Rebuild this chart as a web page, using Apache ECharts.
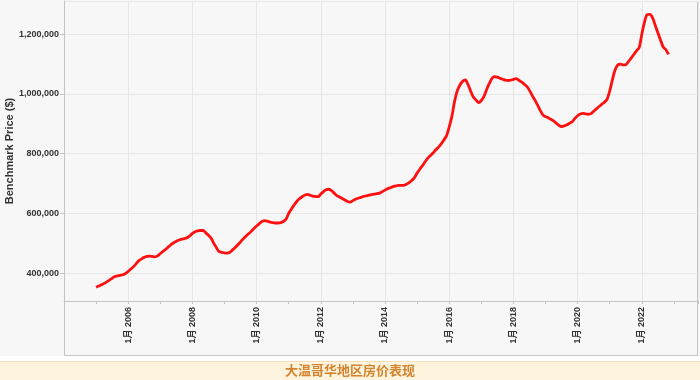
<!DOCTYPE html>
<html>
<head>
<meta charset="utf-8">
<script src="https://cdn.jsdelivr.net/npm/echarts@6/dist/echarts.min.js"></script>
<style>html,body{margin:0;padding:0;background:#fff}#c{width:700px;height:380px}</style>
</head>
<body>
<div id="c"></div>
<script>
// Monthly benchmark price, starting January 2005
const firstYear = 2005;
const benchmarkPrice = [
  // 2005
  353000,357000,361000,366000,371000,377000,383000,389000,391000,393000,395000,399000,
  // 2006
  406000,414000,422000,432000,442000,448000,453000,456000,457000,456000,455000,458000,
  // 2007
  466000,473000,480000,488000,496000,502000,507000,511000,514000,516000,519000,525000,
  // 2008
  533000,539000,542000,543000,543000,535000,527000,517000,500000,485000,472000,470000,
  // 2009
  468000,467000,470000,478000,486000,495000,505000,515000,524000,532000,540000,550000,
  // 2010
  558000,566000,573000,576000,574000,571000,569000,568000,568000,569000,573000,581000,
  // 2011
  600000,615000,628000,640000,649000,656000,661000,664000,661000,658000,657000,656000,
  // 2012
  665000,673000,679000,681000,676000,668000,660000,655000,650000,645000,640000,638000,
  // 2013
  643000,648000,651000,654000,657000,659000,661000,663000,665000,666000,668000,673000,
  // 2014
  678000,683000,686000,690000,692000,694000,694000,694000,698000,703000,710000,720000,
  // 2015
  735000,748000,760000,773000,785000,794000,803000,813000,822000,833000,846000,860000,
  // 2016
  890000,925000,975000,1010000,1030000,1042000,1047000,1032000,1010000,990000,980000,971000,
  // 2017
  978000,992000,1015000,1035000,1052000,1058000,1056000,1052000,1049000,1046000,1045000,1046000,
  // 2018
  1049000,1051000,1046000,1040000,1033000,1025000,1012000,995000,980000,963000,945000,930000,
  // 2019
  924000,920000,915000,910000,902000,895000,891000,893000,897000,902000,907000,918000,
  // 2020
  927000,933000,935000,933000,932000,934000,942000,950000,958000,965000,972000,982000,
  // 2021
  1010000,1047000,1080000,1097000,1100000,1097000,1098000,1108000,1120000,1132000,1144000,1155000,
  // 2022
  1200000,1240000,1265000,1266000,1255000,1230000,1205000,1180000,1157000,1148000,1132000
];
const xTickYears = [2006, 2008, 2010, 2012, 2014, 2016, 2018, 2020, 2022];
const yTicks = [400000, 600000, 800000, 1000000, 1200000];
const yAxisName = 'Benchmark Price ($)';
const monthLabel = '1月';
const title = '大温哥华地区房价表现';

const seriesData = benchmarkPrice.map((v, i) => [firstYear + i / 12, v]);

const chart = echarts.init(document.getElementById('c'), null, {renderer: 'canvas'});
const fontFam = '"Liberation Sans", Arial, sans-serif';
chart.setOption({
  backgroundColor: '#ffffff',
  animation: false,
  graphic: [
    {type: 'rect', z: -10, silent: true, shape: {x: 0, y: 0, width: 700, height: 356}, style: {fill: '#f7f7f7'}},
    {type: 'rect', z: -9, silent: true, shape: {x: 64.5, y: 1.5, width: 633, height: 354}, style: {fill: 'none', stroke: '#c4c4c4', lineWidth: 1}},
    {type: 'rect', z: -9, silent: true, shape: {x: 0, y: 361, width: 700, height: 19}, style: {fill: '#fef4dd'}},
    {type: 'line', z: -8, silent: true, shape: {x1: 0, y1: 361.5, x2: 700, y2: 361.5}, style: {stroke: '#f1dfb9', lineWidth: 1}},
    {type: 'text', z: 10, silent: true, x: 350, y: 370.5, style: {text: title, fill: '#d4832f', font: 'bold 13px "Noto Sans CJK SC", sans-serif', textAlign: 'center', textVerticalAlign: 'middle'}}
  ],
  grid: {left: 64, right: 2, top: 1, bottom: 79, containLabel: false, outerBoundsMode: 'none'},
  xAxis: {
    type: 'value',
    min: 2004,
    max: 2023.75,
    interval: 2,
    axisLine: {show: true, lineStyle: {color: '#c4c4c4', width: 1}},
    axisTick: {show: true, length: 3, lineStyle: {color: '#c4c4c4'}},
    minorTick: {show: true, splitNumber: 2, length: 3, lineStyle: {color: '#c4c4c4'}},
    splitLine: {show: true, lineStyle: {color: '#e6e6e6', width: 1}},
    axisLabel: {
      rotate: 90,
      margin: 6,
      showMinLabel: false,
      showMaxLabel: false,
      fontSize: 9,
      fontWeight: 'bold',
      color: '#333',
      fontFamily: '"Liberation Sans", "Noto Sans CJK SC", sans-serif',
      formatter: v => xTickYears.indexOf(v) >= 0 ? monthLabel + ' ' + v : ''
    }
  },
  yAxis: {
    type: 'value',
    min: 307000,
    max: 1311000,
    splitNumber: 5,
    name: yAxisName,
    nameLocation: 'middle',
    nameGap: 49,
    nameMoveOverlap: false,
    nameTextStyle: {fontSize: 11, fontWeight: 'bold', color: '#333', fontFamily: fontFam},
    axisLine: {show: true, lineStyle: {color: '#c4c4c4', width: 1}},
    axisTick: {show: true, length: 4, lineStyle: {color: '#c4c4c4'}},
    splitLine: {show: true, lineStyle: {color: '#e6e6e6', width: 1}},
    axisLabel: {
      showMinLabel: false,
      showMaxLabel: false,
      margin: 5,
      fontSize: 9,
      fontWeight: 'bold',
      color: '#333',
      fontFamily: fontFam,
      formatter: v => yTicks.indexOf(v) >= 0 ? v.toLocaleString('en-US') : ''
    }
  },
  series: [{
    type: 'line',
    data: seriesData,
    showSymbol: false,
    smooth: 0.3,
    lineStyle: {color: '#ff1010', width: 2.8},
    itemStyle: {color: '#ff1010'}
  }]
});
</script>
</body>
</html>
